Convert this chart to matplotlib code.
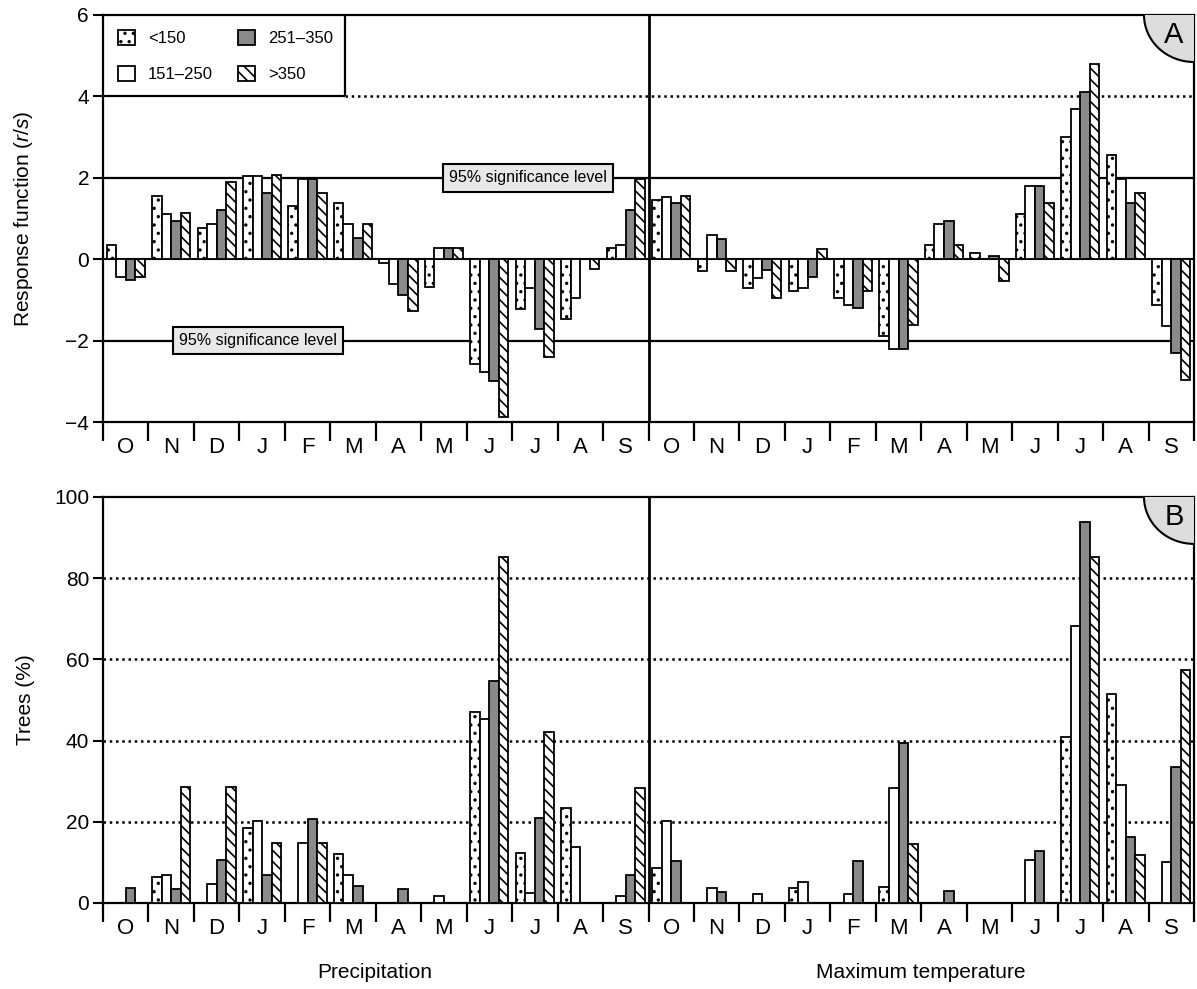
import numpy as np
import matplotlib
matplotlib.use("Agg")
import matplotlib.pyplot as plt
from matplotlib.patches import Patch, Ellipse

plt.rcParams['font.family'] = ['Liberation Sans', 'DejaVu Sans']
plt.rcParams['mathtext.fontset'] = 'custom'
plt.rcParams['mathtext.rm'] = 'Liberation Sans'
plt.rcParams['mathtext.it'] = 'Liberation Sans:italic'
plt.rcParams['hatch.linewidth'] = 1.2

# month labels (Oct..Sep), repeated for precipitation and max temperature
months = ['O', 'N', 'D', 'J', 'F', 'M', 'A', 'M', 'J', 'J', 'A', 'S']
classes = ['<150', '151\u2013250', '251\u2013350', '>350']

# panel A: response function, precipitation
resp_prec_lt150 = [0.35, 1.55, 0.77, 2.04, 1.30, 1.38, -0.10, -0.68, -2.57, -1.22, -1.46, 0.27]
resp_prec_151 = [-0.43, 1.12, 0.86, 2.04, 1.96, 0.86, -0.62, 0.27, -2.76, -0.70, -0.95, 0.35]
resp_prec_251 = [-0.52, 0.94, 1.20, 1.63, 1.98, 0.52, -0.88, 0.27, -3.00, -1.72, 0.0, 1.20]
resp_prec_gt350 = [-0.44, 1.13, 1.89, 2.06, 1.63, 0.86, -1.28, 0.27, -3.88, -2.40, -0.25, 1.96]

# panel A: response function, maximum temperature
resp_temp_lt150 = [1.45, -0.28, -0.70, -0.78, -0.96, -1.88, 0.35, 0.16, 1.11, 3.00, 2.57, -1.12]
resp_temp_151 = [1.53, 0.60, -0.45, -0.70, -1.13, -2.20, 0.86, 0.0, 1.79, 3.68, 1.97, -1.63]
resp_temp_251 = [1.37, 0.50, -0.26, -0.44, -1.19, -2.20, 0.94, 0.08, 1.79, 4.10, 1.37, -2.30]
resp_temp_gt350 = [1.55, -0.28, -0.96, 0.26, -0.78, -1.62, 0.35, -0.54, 1.37, 4.79, 1.62, -2.98]

# panel B: trees (%), precipitation
trees_prec_lt150 = [0, 6.3, 0, 18.4, 0, 12.1, 0, 0, 47.0, 12.4, 23.4, 0]
trees_prec_151 = [0, 7.0, 4.6, 20.2, 14.7, 6.9, 0, 1.7, 45.2, 2.5, 13.7, 1.7]
trees_prec_251 = [3.7, 3.4, 10.5, 6.9, 20.6, 4.2, 3.5, 0, 54.8, 21.0, 0, 6.8]
trees_prec_gt350 = [0, 28.6, 28.6, 14.8, 14.7, 0, 0, 0, 85.3, 42.2, 0, 28.3]

# panel B: trees (%), maximum temperature
trees_temp_lt150 = [8.6, 0, 0, 3.8, 0, 3.9, 0, 0, 0, 40.9, 51.5, 0]
trees_temp_151 = [20.2, 3.8, 2.3, 5.2, 2.3, 28.4, 0, 0, 10.5, 68.3, 29.0, 10.0]
trees_temp_251 = [10.3, 2.8, 0, 0, 10.3, 39.5, 3.0, 0, 12.8, 93.8, 16.3, 33.4]
trees_temp_gt350 = [0, 0, 0, 0, 0, 14.6, 0, 0, 0, 85.2, 11.8, 57.3]

resp = [resp_prec_lt150 + resp_temp_lt150, resp_prec_151 + resp_temp_151,
        resp_prec_251 + resp_temp_251, resp_prec_gt350 + resp_temp_gt350]
trees = [trees_prec_lt150 + trees_temp_lt150, trees_prec_151 + trees_temp_151,
         trees_prec_251 + trees_temp_251, trees_prec_gt350 + trees_temp_gt350]

# bar styles for the four classes
styles = [dict(facecolor='white', hatch='..'),
          dict(facecolor='white', hatch=''),
          dict(facecolor='#8a8a8a', hatch=''),
          dict(facecolor='white', hatch='\\\\\\')]

W, H = 1197, 989
fig = plt.figure(figsize=(W / 100, H / 100), dpi=100)
axA = fig.add_axes([103 / W, 1 - 422 / H, 1091 / W, 407 / H])
axB = fig.add_axes([103 / W, 1 - 903 / H, 1091 / W, 406 / H])

slots = np.arange(24)
bw = 0.21


def draw_bars(ax, series):
    for i, vals in enumerate(series):
        x = slots + 0.08 + bw * (i + 0.5)
        ax.bar(x, vals, width=bw, edgecolor='black', linewidth=1.3,
               zorder=3, **styles[i])


def style_axis(ax, letter):
    ax.set_xlim(0, 24)
    ax.set_xticks(np.arange(25))
    ax.set_xticks(slots + 0.5, minor=True)
    ax.set_xticklabels(months * 2, minor=True)
    ax.tick_params(axis='x', which='major', length=14, width=1.6,
                   direction='out', labelbottom=False)
    ax.tick_params(axis='x', which='minor', length=0, pad=11, labelsize=16)
    ax.tick_params(axis='y', length=7, width=1.5, direction='out',
                   labelsize=15, pad=3)
    for sp in ax.spines.values():
        sp.set_linewidth(1.6)
    ax.axvline(12, color='black', lw=2, zorder=4)
    # panel letter in a quarter circle
    ax.add_patch(Ellipse((1, 1), 2 * 50 / 1091, 2 * 47 / 407,
                         transform=ax.transAxes, facecolor='#dcdcdc',
                         edgecolor='black', lw=1.5, zorder=5))
    ax.text(0.9817, 0.951, letter, transform=ax.transAxes, fontsize=21,
            ha='center', va='center', zorder=6)


# ---- panel A ----
draw_bars(axA, resp)
axA.set_ylim(-4, 6)
axA.set_yticks([-4, -2, 0, 2, 4, 6])
axA.axhline(0, color='black', lw=1.5, zorder=2)
axA.axhline(2, color='black', lw=1.6, zorder=1)
axA.axhline(-2, color='black', lw=1.6, zorder=1)
axA.hlines(4, 5.32, 24, colors='black', linestyles=(0, (1, 1.5)), lw=1.8, zorder=1)
# legend frame
axA.hlines(4, 0, 5.32, colors='black', lw=1.6, zorder=4)
axA.vlines(5.32, 4, 6, colors='black', lw=1.6, zorder=4)
handles = [Patch(edgecolor='black', linewidth=1.3, **s) for s in styles]
axA.legend(handles, classes, ncol=2, loc='upper left', frameon=False,
           fontsize=12, handlelength=1.0, handleheight=1.0,
           handletextpad=0.8, columnspacing=1.5, labelspacing=1.2,
           borderaxespad=0.5)
box = dict(boxstyle='square,pad=0.4', facecolor='#e8e8e8', edgecolor='black', lw=1.5)
axA.text(9.35, 2, '95% significance level', ha='center', va='center',
         fontsize=11.5, bbox=box, zorder=5)
axA.text(3.41, -2, '95% significance level', ha='center', va='center',
         fontsize=11.5, bbox=box, zorder=5)
axA.set_ylabel('Response function ($r/s$)', fontsize=15)
axA.yaxis.set_label_coords(-0.062, 0.5)
style_axis(axA, 'A')

# ---- panel B ----
draw_bars(axB, trees)
axB.set_ylim(0, 100)
axB.set_yticks([0, 20, 40, 60, 80, 100])
for g in [20, 40, 60, 80]:
    axB.axhline(g, color='black', linestyle=(0, (1, 1.5)), lw=1.8, zorder=1)
axB.set_ylabel('Trees (%)', fontsize=15)
axB.yaxis.set_label_coords(-0.062, 0.5)
style_axis(axB, 'B')

fig.text(375 / W, 1 - 973 / H, 'Precipitation', ha='center', va='center', fontsize=15)
fig.text(921 / W, 1 - 973 / H, 'Maximum temperature', ha='center', va='center', fontsize=15)

fig.savefig('out.png', dpi=100)
